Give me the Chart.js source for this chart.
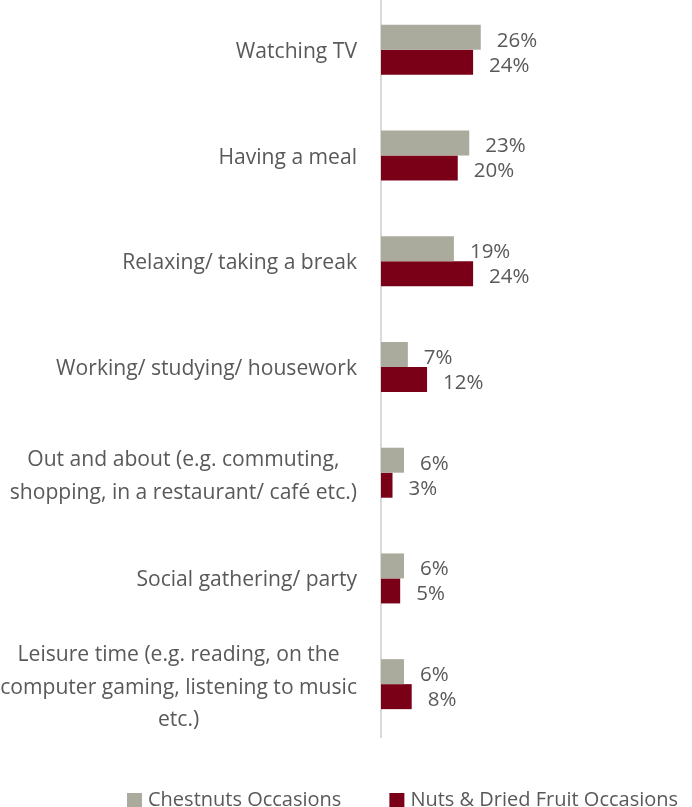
<!DOCTYPE html>
<html>
<head>
<meta charset="utf-8">
<script src="https://cdn.jsdelivr.net/npm/chart.js@4/dist/chart.umd.min.js"></script>
<style>
  html, body { margin: 0; padding: 0; background: #ffffff; }
  #wrap { width: 692px; height: 807px; position: relative; }
</style>
</head>
<body>
<div id="wrap"><canvas id="chart" width="692" height="807"></canvas></div>
<script>
// Eating occasions, share of respondents (%)
const categories = [
  'Watching TV',
  'Having a meal',
  'Relaxing/ taking a break',
  'Working/ studying/ housework',
  ['Out and about (e.g. commuting,', 'shopping, in a restaurant/ café etc.)'],
  'Social gathering/ party',
  ['Leisure time (e.g. reading, on the', 'computer gaming, listening to music', 'etc.)']
];
const seriesNames = ['Chestnuts Occasions', 'Nuts & Dried Fruit Occasions'];
const chestnutValues = [26, 23, 19, 7, 6, 6, 6];
const nutsFruitValues = [24, 20, 24, 12, 3, 5, 8];
const seriesColors = ['#ABAB9D', '#7A0018'];

const FONT = '"Open Sans", "Liberation Sans", sans-serif';
const TICK_SIZE = 21.1;
const LABEL_SIZE = 20.5;
const LEGEND_SIZE = 20;
const TEXT_COLOR = '#595959';
const TICK_PAD = 24;

// stretch the category axis a few pixels above the canvas top
const axisStretch = {
  id: 'axisStretch',
  afterLayout(chart) {
    const y = chart.scales.y;
    y.top = chart.chartArea.top - 3;
    y.height = y.bottom - y.top;
    y.configure();
  }
};

// wrapped category names: block right-aligned to the axis, lines centred
const wrappedTicks = {
  id: 'wrappedTicks',
  afterDraw(chart) {
    const ctx = chart.ctx;
    const y = chart.scales.y;
    const right = y.right - TICK_PAD;
    const lh = 32.6;
    ctx.save();
    ctx.font = TICK_SIZE + 'px ' + FONT;
    ctx.fillStyle = TEXT_COLOR;
    ctx.textAlign = 'center';
    ctx.textBaseline = 'middle';
    categories.forEach((lab, i) => {
      if (!Array.isArray(lab)) return;
      const widest = Math.max(...lab.map(s => ctx.measureText(s).width));
      const cx = right - widest / 2;
      const yc = y.getPixelForTick(i) + 3.5;
      lab.forEach((line, j) => {
        ctx.fillText(line, cx, yc + (j - (lab.length - 1) / 2) * lh);
      });
    });
    ctx.restore();
  }
};

// value labels to the right of each bar
const valueLabels = {
  id: 'valueLabels',
  afterDatasetsDraw(chart) {
    const ctx = chart.ctx;
    ctx.save();
    ctx.font = LABEL_SIZE + 'px ' + FONT;
    ctx.fillStyle = TEXT_COLOR;
    ctx.textAlign = 'left';
    ctx.textBaseline = 'middle';
    chart.data.datasets.forEach((ds, di) => {
      chart.getDatasetMeta(di).data.forEach((bar, i) => {
        ctx.fillText(ds.data[i] + '%', bar.x + 16, bar.y + 3.5);
      });
    });
    ctx.restore();
  }
};

// legend row along the bottom edge
const bottomLegend = {
  id: 'bottomLegend',
  afterDraw(chart) {
    const ctx = chart.ctx;
    ctx.save();
    ctx.font = LEGEND_SIZE + 'px ' + FONT;
    ctx.textAlign = 'left';
    ctx.textBaseline = 'alphabetic';
    let x = 127;
    const baseline = 806;
    chart.data.datasets.forEach((ds) => {
      ctx.fillStyle = ds.backgroundColor;
      ctx.fillRect(x, 793, 15, 15);
      ctx.fillStyle = TEXT_COLOR;
      ctx.fillText(ds.label, x + 21, baseline);
      x += 21 + ctx.measureText(ds.label).width + 48;
    });
    ctx.restore();
  }
};

new Chart(document.getElementById('chart'), {
  type: 'bar',
  data: {
    labels: categories,
    datasets: [
      { label: seriesNames[0], data: chestnutValues, backgroundColor: seriesColors[0] },
      { label: seriesNames[1], data: nutsFruitValues, backgroundColor: seriesColors[1] }
    ]
  },
  options: {
    indexAxis: 'y',
    responsive: false,
    devicePixelRatio: 1,
    animation: false,
    datasets: {
      bar: { categoryPercentage: 0.473, barPercentage: 1.0, borderWidth: 0 }
    },
    layout: { padding: { top: 0, bottom: 70, left: 0, right: 4 } },
    plugins: {
      legend: { display: false },
      tooltip: { enabled: false }
    },
    scales: {
      x: {
        display: false,
        min: 0,
        max: 80
      },
      y: {
        grid: { display: false, drawTicks: false },
        border: { display: true, color: '#D9D9D9', width: 2 },
        ticks: {
          color: (c) => Array.isArray(categories[c.index]) ? 'rgba(0,0,0,0)' : TEXT_COLOR,
          padding: TICK_PAD,
          labelOffset: 2,
          autoSkip: false,
          font: { family: FONT, size: TICK_SIZE, lineHeight: 1.55 }
        },
        afterFit(scale) {
          scale.width = 381;
          scale.paddingTop = 0;
          scale.paddingBottom = 0;
        }
      }
    }
  },
  plugins: [axisStretch, wrappedTicks, valueLabels, bottomLegend]
});
</script>
</body>
</html>
